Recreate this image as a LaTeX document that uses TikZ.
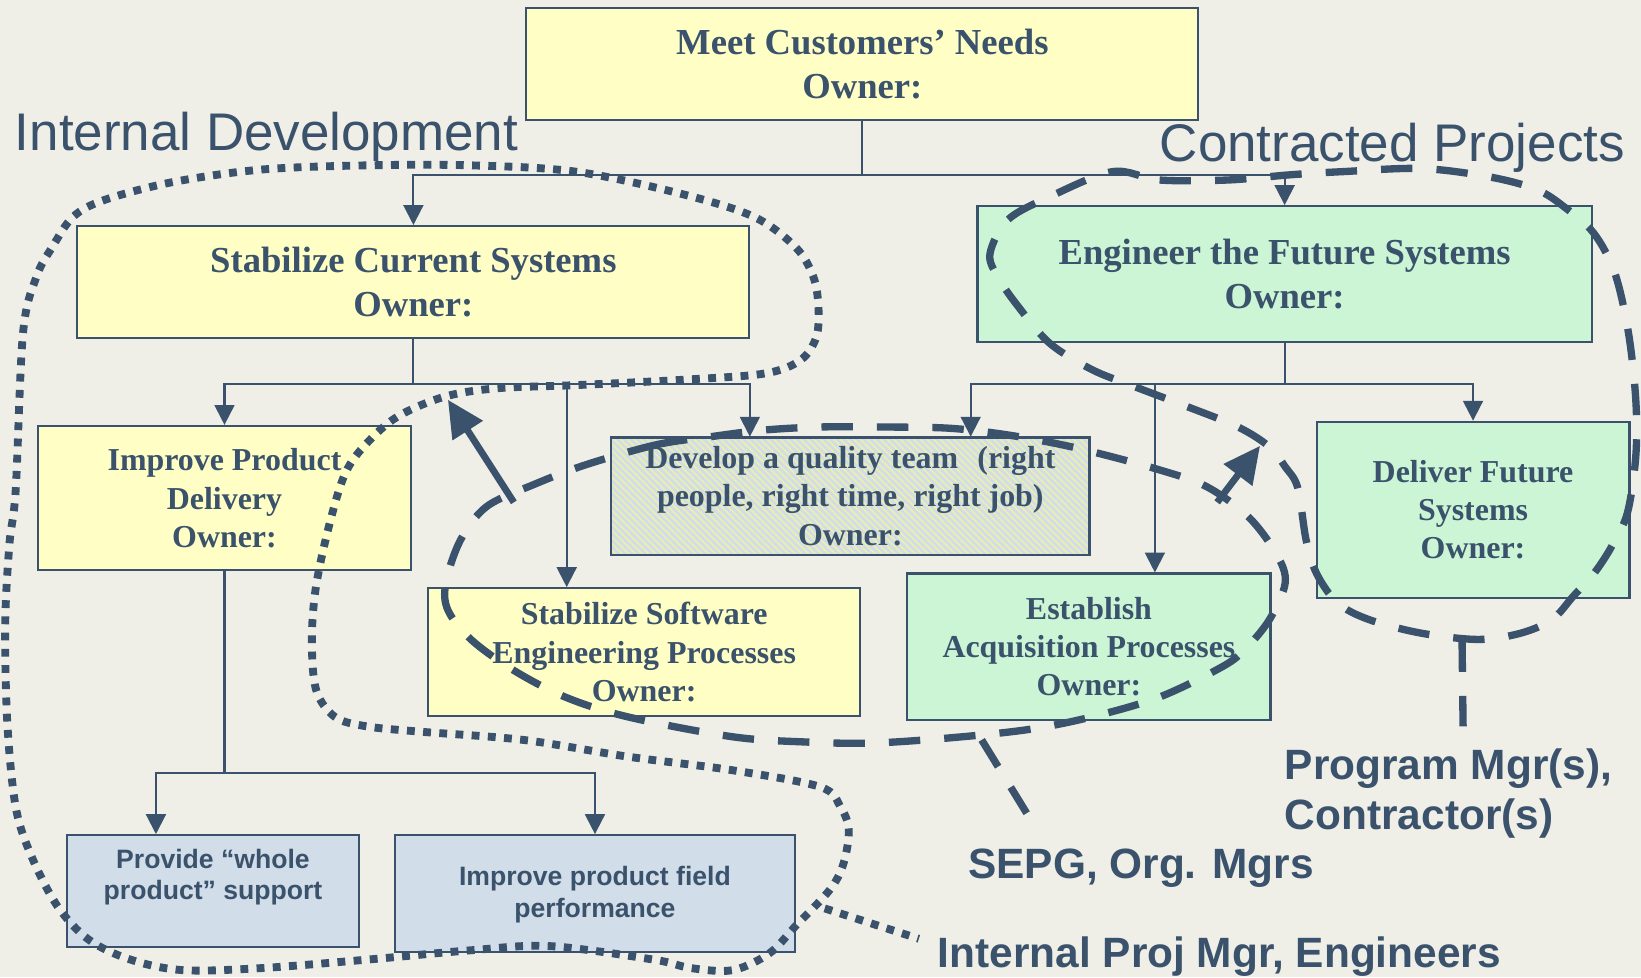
\documentclass[tikz,border=0pt]{standalone}
\usepackage{fontspec}
\setmainfont{Liberation Serif}
\setsansfont{Liberation Sans}
\usetikzlibrary{arrows.meta,patterns.meta,calc}
\definecolor{bg}{RGB}{239,238,231}
\definecolor{ink}{RGB}{58,82,107}
\definecolor{yel}{RGB}{255,255,197}
\definecolor{grn}{RGB}{204,245,213}
\definecolor{blu}{RGB}{209,221,232}
\definecolor{stripe}{RGB}{238,240,170}
\begin{document}
\begin{tikzpicture}[x=1pt,y=-1pt,
  box/.style={draw=ink, line width=2pt, inner sep=0pt, text=ink, align=center},
  bigtxt/.style={font=\bfseries\fontsize{35}{42}\selectfont},
  medtxt/.style={font=\bfseries\fontsize{30.5}{36.5}\selectfont},
  ybox/.style={box, fill=yel},
  gbox/.style={box, fill=grn},
  bbox/.style={box, fill=blu},
  stext/.style={text=ink, align=center, inner sep=0pt, font=\sffamily\bfseries\fontsize{25.4}{30}\selectfont},
  lbl/.style={text=ink, inner sep=0pt, anchor=base west, font=\sffamily\bfseries\fontsize{40.5}{48}\selectfont},
  ttl/.style={text=ink, inner sep=0pt, anchor=base west, font=\sffamily\fontsize{50.6}{60}\selectfont},
  conn/.style={draw=ink, line width=2pt, -{Triangle[length=19pt,width=19pt]}},
  plain/.style={draw=ink, line width=2pt},
  dotc/.style={draw=ink, line width=7.5pt, dash pattern=on 7.5pt off 8pt},
  dashc/.style={draw=ink, line width=7pt, dash pattern=on 30pt off 23pt},
  bigarrow/.style={draw=ink, line width=6.5pt, -{Triangle[length=35pt,width=33pt]}}
]
\useasboundingbox (0,0) rectangle (1568,934);
\fill[bg] (0,0) rectangle (1568,934);

% boxes
\node[ybox, bigtxt, minimum width=642pt, minimum height=107pt] (meet) at (824,61.5) {Meet Customers’ Needs\\Owner:};
\node[ybox, bigtxt, minimum width=642pt, minimum height=107pt] (scs) at (395,269.5) {Stabilize Current Systems\\Owner:};
\node[gbox, bigtxt, minimum width=587pt, minimum height=130pt] (eng) at (1227.5,262) {Engineer the Future Systems\\Owner:};
\node[ybox, medtxt, minimum width=357pt, minimum height=138pt] (ipd) at (214.5,476) {Improve Product\\Delivery\\Owner:};
\node[box, medtxt, minimum width=457pt, minimum height=112pt, preaction={fill=blu},
  pattern={Lines[angle=-45,distance=4.5pt,line width=1.5pt]}, pattern color=stripe] (dev) at (812.5,474)
  {Develop a quality team\hspace{0.6em}(right\\people, right time, right job)\\Owner:};
\node[ybox, medtxt, minimum width=413pt, minimum height=122pt] (ssw) at (615.5,623) {Stabilize Software\\Engineering Processes\\Owner:};
\node[gbox, medtxt, minimum width=347pt, minimum height=140pt] (est) at (1040.5,618) {Establish\\Acquisition Processes\\Owner:};
\node[gbox, medtxt, minimum width=299pt, minimum height=168pt] (dfs) at (1407.5,487) {Deliver Future\\Systems\\Owner:};
\node[bbox, minimum width=279pt, minimum height=107pt] (prov) at (203.5,851.5) {};
\node[stext] (provt) at (203.5,838) {Provide “whole\\product” support};
\node[bbox, minimum width=383pt, minimum height=112pt] (ipf) at (568.5,854) {};
\node[stext] (ipft) at (568.5,855) {Improve product field\\performance};

% connectors
\coordinate (devA) at ([xshift=-96pt]dev.north);
\coordinate (devB) at ([xshift=115pt]dev.north);
\coordinate (sswin) at ([xshift=-74pt]ssw.north);
\coordinate (estin) at ([xshift=63pt]est.north);
\coordinate (provin) at ([xshift=-54.5pt]prov.north);

\draw[plain] (meet.south) -- ++(0,51.5) coordinate (mj);
\draw[conn] (mj) -| (scs.north);
\draw[conn] (mj) -| (eng.north);

\draw[plain] (scs.south) -- ++(0,43) coordinate (sj);
\draw[conn] (sj) -| (ipd.north);
\draw[conn] (sj) -| (devA);
\draw[conn] (sswin |- sj) -- (sswin);

\draw[plain] (eng.south) -- ++(0,39) coordinate (ej);
\draw[conn] (ej) -| (devB);
\draw[conn] (ej) -| (dfs.north);
\draw[conn] (estin |- ej) -- (estin);

\draw[plain] (ipd.south) -- ++(0,193) coordinate (ij);
\draw[conn] (ij) -| (provin);
\draw[conn] (ij) -| (ipf.north);

% titles and labels
\node[ttl] (tint) at (14,144) {Internal Development};
\node[ttl] (tcon) at (1108,154.5) {Contracted Projects};
\node[lbl] (lpm) at (1227.5,744.6) {Program Mgr(s),};
\node[lbl] (lct) at (1227.5,793) {Contractor(s)};
\node[lbl] (lsepg) at (925,839) {SEPG, Org. Mgrs};
\node[lbl] (lipm) at (896,924) {Internal Proj Mgr, Engineers};

% dotted region: internal development
\draw[dotc] plot[smooth cycle, tension=0.55] coordinates {
 (15,468) (22,318) (35,264) (50,236) (70,207) (100,191) (165,174) (250,162) (350,158)
 (450,158) (550,164) (650,185) (720,207) (760,236) (777,264) (782,293) (780,322)
 (765,344) (730,357) (650,363) (550,368) (475,371) (425,379) (380,398) (350,424)
 (330,452) (315,500) (302,560) (298,611) (302,659) (320,685) (350,694) (400,699)
 (500,707) (600,723) (700,736) (784,752) (803,771) (811,793) (806,825) (793,850)
 (760,885) (735,911) (700,927) (660,925) (625,917) (525,904) (450,908) (350,917)
 (250,925) (175,927) (125,917) (85,898) (55,866) (30,818) (15,771) (7,691) (5,596) (9,520)};
\coordinate (dotend) at (878,897);
\draw[dotc] (788,868) -- (dotend);

% dashed region: SEPG
\draw[dashc] plot[smooth cycle, tension=0.55] coordinates {
 (560,444) (627,425) (681,417) (729,411) (783,408) (841,408) (904,409) (952,414)
 (1000,422) (1045,432) (1108,449) (1153,465) (1193,494) (1220,530) (1228,557)
 (1213,592) (1190,620) (1168,637) (1108,666) (1043,685) (983,697) (908,705) (833,710)
 (770,709) (700,704) (600,685) (540,666) (490,640) (450,611) (428,583) (426,557)
 (440,516) (465,484) (510,463)};
\coordinate (sepgend) at (981,777);
\draw[dashc] (938,707) -- (sepgend);

% dashed region: contracted projects
\draw[dashc] plot[smooth cycle, tension=0.55] coordinates {
 (1063,164) (1108,172) (1173,172) (1233,167) (1283,164) (1358,161) (1423,169) (1468,181)
 (1495,198) (1523,223) (1543,261) (1556,318) (1563,382) (1563,436) (1555,490) (1540,522)
 (1523,548) (1503,570) (1483,592) (1453,605) (1413,611) (1358,605) (1308,592) (1278,576)
 (1258,548) (1248,516) (1240,466) (1228,446) (1213,427) (1183,408) (1133,388) (1083,369)
 (1043,353) (1003,328) (973,293) (953,264) (946,242) (963,210) (1003,188)};
\coordinate (cpend) at (1398,694);
\draw[dashc] (1397,612) -- (cpend);

% thick arrows
\coordinate (a1s) at (491,480);
\coordinate (a1e) at (428,382);
\coordinate (a2s) at (1163,480);
\coordinate (a2e) at (1204,426);
\draw[bigarrow] (a1s) -- (a1e);
\draw[bigarrow] (a2s) -- (a2e);
\end{tikzpicture}
\end{document}
